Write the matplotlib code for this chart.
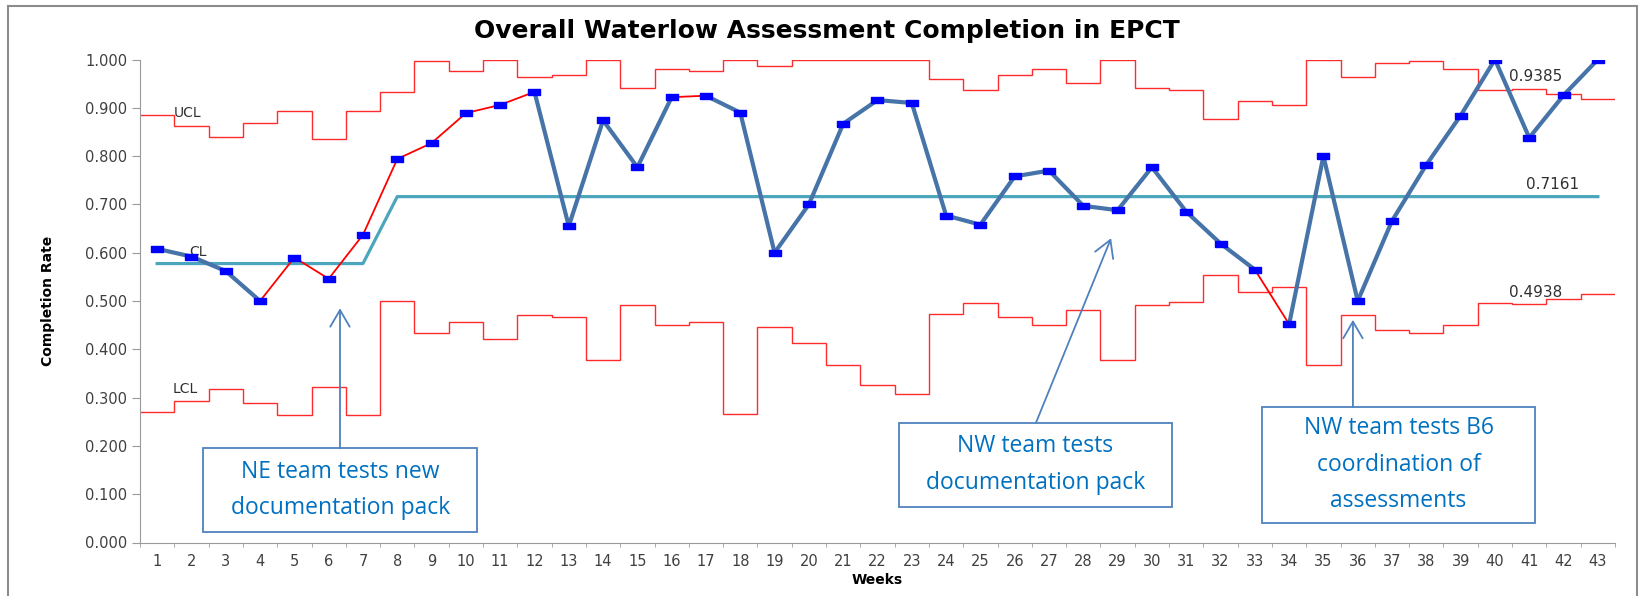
import numpy as np
import matplotlib
matplotlib.use("Agg")
import matplotlib.pyplot as plt
from matplotlib.patches import Rectangle, FancyArrowPatch

weeks = list(range(1, 44))
rate = [0.608, 0.592, 0.562, 0.500, 0.590, 0.546, 0.637, 0.794, 0.827, 0.889,
        0.906, 0.933, 0.655, 0.874, 0.777, 0.922, 0.925, 0.890, 0.600, 0.700,
        0.867, 0.916, 0.910, 0.677, 0.658, 0.758, 0.770, 0.697, 0.688, 0.777,
        0.685, 0.619, 0.565, 0.452, 0.800, 0.500, 0.666, 0.782, 0.884, 1.000,
        0.838, 0.926, 1.000]
ucl = [0.886, 0.863, 0.839, 0.868, 0.894, 0.836, 0.894, 0.932, 0.997, 0.976,
       1.000, 0.963, 0.968, 1.000, 0.940, 0.980, 0.976, 1.000, 0.986, 1.000,
       1.000, 1.000, 1.000, 0.959, 0.937, 0.968, 0.981, 0.952, 1.000, 0.940,
       0.936, 0.877, 0.915, 0.905, 1.000, 0.963, 0.992, 0.997, 0.981, 0.937,
       0.939, 0.928, 0.918]
lcl = [0.270, 0.292, 0.317, 0.288, 0.263, 0.321, 0.263, 0.500, 0.434, 0.456,
       0.421, 0.470, 0.466, 0.378, 0.492, 0.451, 0.456, 0.266, 0.446, 0.414,
       0.367, 0.326, 0.308, 0.473, 0.496, 0.466, 0.451, 0.481, 0.378, 0.492,
       0.497, 0.554, 0.518, 0.528, 0.367, 0.470, 0.439, 0.434, 0.451, 0.496,
       0.493, 0.505, 0.515]
cl = [0.5775] * 7 + [0.7161] * 36
# segments (start week) drawn as red signal segments
red_from = [4, 5, 6, 7, 8, 9, 10, 11, 16, 33]
notes = ["NE team tests new\ndocumentation pack",
         "NW team tests\ndocumentation pack",
         "NW team tests B6\ncoordination of\nassessments"]

BLUE, MARK, TEAL, RED = "#4673a8", "#0000ff", "#4ba6bd", "#ff0000"
BOXC, TXTC, GREY = "#4f81bd", "#0070c0", "#404040"

fig = plt.figure(figsize=(16.4, 5.96), dpi=100)
fig.patches.append(Rectangle((8 / 1640, -0.05), 1629 / 1640, 1.05 - 6 / 596,
                             transform=fig.transFigure, fill=False,
                             ec="#8c8c8c", lw=1.5))
ax = fig.add_axes([140 / 1640, 1 - 542.5 / 596, 1475 / 1640, 483 / 596])

edges = np.arange(0.5, 44.5, 1.0)
ax.stairs(ucl, edges, baseline=None, color="#ff2a2a", lw=1.0)
ax.stairs(lcl, edges, baseline=None, color="#ff2a2a", lw=1.0)
ax.plot(weeks, cl, color=TEAL, lw=2.3)

for i in range(len(weeks) - 1):
    if weeks[i] in red_from:
        ax.plot(weeks[i:i + 2], rate[i:i + 2], color=RED, lw=1.3, zorder=3)
    else:
        ax.plot(weeks[i:i + 2], rate[i:i + 2], color=BLUE, lw=3.0, zorder=3,
                solid_capstyle="round")
rect = [(-1, -0.55), (1, -0.55), (1, 0.55), (-1, 0.55), (-1, -0.55)]
ax.plot(weeks, rate, ls="none", marker=rect, ms=8, color=MARK, zorder=4)

ax.set_xlim(0.5, 43.5)
ax.set_ylim(0, 1.0)
ax.set_yticks(np.arange(0, 1.01, 0.1))
ax.set_yticklabels([f"{v:.3f}" for v in np.arange(0, 1.01, 0.1)])
ax.set_xticks(weeks)
ax.set_xticks(edges, minor=True)
ax.tick_params(axis="x", which="major", length=0, pad=8, labelsize=10.5,
               labelcolor=GREY)
ax.tick_params(axis="x", which="minor", length=3, color="#9a9a9a")
ax.tick_params(axis="y", length=6, color="#9a9a9a", labelsize=10.5,
               labelcolor=GREY, pad=3)
for s in ("top", "right"):
    ax.spines[s].set_visible(False)
for s in ("left", "bottom"):
    ax.spines[s].set_color("#9a9a9a")

ax.set_xlabel("Weeks", fontsize=10, fontweight="bold", labelpad=3)
ax.set_ylabel("Completion Rate", fontsize=10, fontweight="bold",
              family=["Liberation Sans Narrow", "DejaVu Sans"], labelpad=22)
fig.text(0.504, 1 - 31 / 596, "Overall Waterlow Assessment Completion in EPCT",
         ha="center", va="center", fontsize=18, fontweight="bold")

small = dict(fontsize=10, color="#303030", va="center")
ax.text(1.49, 0.889, "UCL", **small)
ax.text(1.93, 0.601, "CL", **small)
ax.text(1.45, 0.318, "LCL", **small)
ax.text(40.4, 0.964, "0.9385", fontsize=11, color="#303030", va="center")
ax.text(40.9, 0.742, "0.7161", fontsize=11, color="#303030", va="center")
ax.text(40.4, 0.518, "0.4938", fontsize=11, color="#303030", va="center")

boxes = [(2.35, 0.022, 10.32, 0.195), (22.63, 0.074, 30.58, 0.248),
         (33.21, 0.041, 41.17, 0.281)]
arrows = [((6.33, 0.195), (6.33, 0.485)), ((26.62, 0.248), (28.81, 0.630)),
          ((35.86, 0.281), (35.86, 0.461))]
for (x0, y0, x1, y1), note, (tail, tip) in zip(boxes, notes, arrows):
    ax.add_patch(Rectangle((x0, y0), x1 - x0, y1 - y0, fill=True, fc="white",
                           ec=BOXC, lw=1.3, zorder=5))
    ax.text((x0 + x1) / 2, (y0 + y1) / 2, note, ha="center", va="center",
            fontsize=16.5, color=TXTC, family=["Open Sans", "DejaVu Sans"],
            linespacing=1.7, zorder=6)
    ax.add_patch(FancyArrowPatch(tail, tip, arrowstyle="->,head_length=0.6,head_width=0.35",
                                 mutation_scale=20, color=BOXC, lw=1.3,
                                 shrinkA=0, shrinkB=0, zorder=5))

fig.savefig("out.png", dpi=100)
